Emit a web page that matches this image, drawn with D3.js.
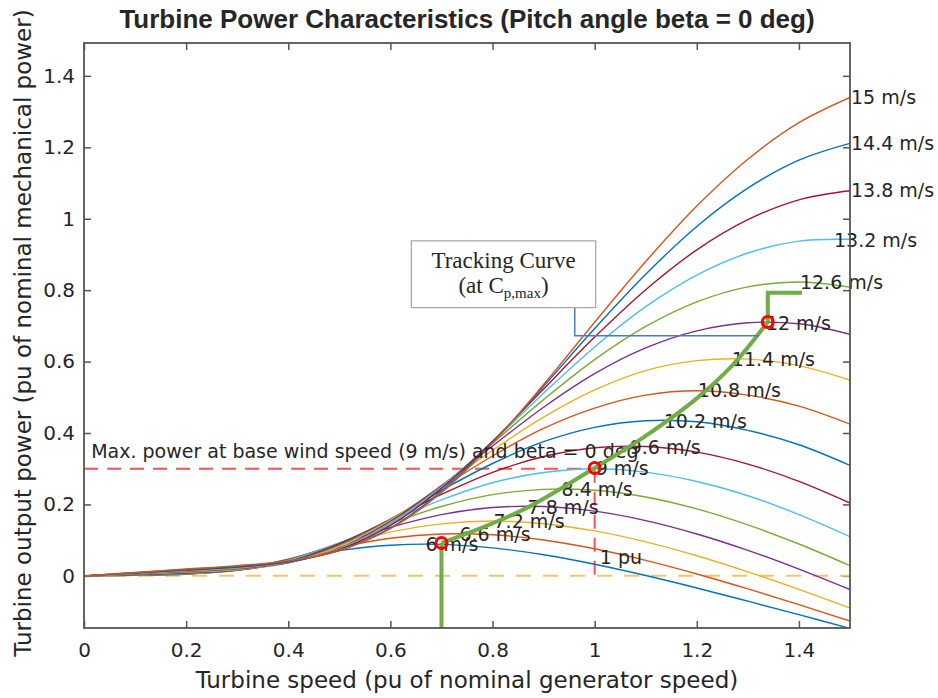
<!DOCTYPE html>
<meta charset="utf-8">
<script src="https://d3js.org/d3.v7.min.js"></script>
<style>
  body { margin: 0; background: #fff; }
  text { font-family: 'DejaVu Sans', sans-serif; fill: #262626; }
</style>
<div id="chart"></div>
<script>
// turbine speed grid (pu) shared by every curve
var speedGrid = [0, 0.1, 0.2, 0.3, 0.4, 0.5, 0.6, 0.7, 0.8, 0.9, 1.0, 1.1, 1.2, 1.3, 1.4, 1.5];

// wind speeds (m/s), one curve each
var windSpeeds = [6, 6.6, 7.2, 7.8, 8.4, 9, 9.6, 10.2, 10.8, 11.4, 12, 12.6, 13.2, 13.8, 14.4, 15];

// turbine output power (pu)
var p6    = [0, 0.0015, 0.0045, 0.0191, 0.0454, 0.0708, 0.0857, 0.0882, 0.0783, 0.0590, 0.0325, 0.0009, -0.0339, -0.0709, -0.1087, -0.1472];
var p6_6  = [0, 0.0018, 0.0048, 0.0182, 0.0469, 0.0801, 0.1053, 0.1172, 0.1151, 0.1005, 0.0758, 0.0433, 0.0053, -0.0364, -0.0807, -0.1265];
var p7_2  = [0, 0.0022, 0.0050, 0.0168, 0.0467, 0.0866, 0.1223, 0.1455, 0.1536, 0.1461, 0.1259, 0.0951, 0.0562, 0.0112, -0.0380, -0.0903];
var p7_8  = [0, 0.0026, 0.0056, 0.0164, 0.0459, 0.0903, 0.1359, 0.1715, 0.1914, 0.1941, 0.1811, 0.1547, 0.1173, 0.0715, 0.0189, -0.0383];
var p8_4  = [0, 0.0030, 0.0064, 0.0158, 0.0437, 0.0920, 0.1462, 0.1942, 0.2273, 0.2422, 0.2395, 0.2207, 0.1874, 0.1427, 0.0892, 0.0286];
var p9    = [0, 0.0034, 0.0071, 0.0153, 0.0426, 0.0913, 0.1534, 0.2129, 0.2608, 0.2893, 0.3000, 0.2904, 0.2642, 0.2243, 0.1716, 0.1098];
var p9_6  = [0, 0.0039, 0.0078, 0.0161, 0.0397, 0.0903, 0.1572, 0.2281, 0.2899, 0.3341, 0.3588, 0.3621, 0.3463, 0.3129, 0.2646, 0.2039];
var p10_2 = [0, 0.0044, 0.0088, 0.0166, 0.0390, 0.0872, 0.1590, 0.2396, 0.3146, 0.3757, 0.4159, 0.4345, 0.4314, 0.4074, 0.3671, 0.3093];
var p10_8 = [0, 0.0050, 0.0099, 0.0168, 0.0383, 0.0848, 0.1577, 0.2468, 0.3356, 0.4128, 0.4698, 0.5059, 0.5183, 0.5060, 0.4752, 0.4248];
var p11_4 = [0, 0.0055, 0.0110, 0.0180, 0.0366, 0.0823, 0.1564, 0.2509, 0.3516, 0.4442, 0.5205, 0.5748, 0.6026, 0.6068, 0.5886, 0.5478];
var p12   = [0, 0.0061, 0.0123, 0.0197, 0.0363, 0.0776, 0.1529, 0.2526, 0.3636, 0.4722, 0.5662, 0.6381, 0.6858, 0.7085, 0.7058, 0.6765];
var p12_6 = [0, 0.0067, 0.0135, 0.0214, 0.0377, 0.0763, 0.1475, 0.2504, 0.3713, 0.4934, 0.6054, 0.6983, 0.7673, 0.8093, 0.8230, 0.8083];
var p13_2 = [0, 0.0075, 0.0148, 0.0231, 0.0386, 0.0755, 0.1455, 0.2487, 0.3754, 0.5115, 0.6409, 0.7537, 0.8422, 0.9039, 0.9374, 0.9424];
var p13_8 = [0, 0.0081, 0.0162, 0.0248, 0.0394, 0.0737, 0.1413, 0.2449, 0.3769, 0.5234, 0.6685, 0.8012, 0.9127, 0.9972, 1.0529, 1.0783];
var p14_4 = [0, 0.0088, 0.0177, 0.0264, 0.0399, 0.0707, 0.1341, 0.2376, 0.3738, 0.5307, 0.6925, 0.8445, 0.9784, 1.0857, 1.1640, 1.2111];
var p15   = [0, 0.0096, 0.0191, 0.0286, 0.0420, 0.0709, 0.1319, 0.2332, 0.3715, 0.5356, 0.7101, 0.8802, 1.0356, 1.1667, 1.2688, 1.3394];

var powerCurves = [p6, p6_6, p7_2, p7_8, p8_4, p9, p9_6, p10_2, p10_8, p11_4, p12, p12_6, p13_2, p13_8, p14_4, p15];

// matlab default line colour order
var lineColors = ["#0072BD", "#D95319", "#EDB120", "#7E2F8E", "#77AC30", "#4DBEEE", "#A2142F"];

// tracking curve (green) and its red markers
var trackSpeed = [0.7, 0.7, 0.8, 0.875, 1.0, 1.1, 1.2, 1.27, 1.339, 1.339, 1.406];
var trackPower = [-0.146, 0.092, 0.147, 0.196, 0.302, 0.392, 0.497, 0.59, 0.711, 0.793, 0.793];
var markerSpeed = [0.7, 1.0, 1.339];
var markerPower = [0.092, 0.302, 0.711];

// base point: 9 m/s gives 0.3 pu at 1 pu speed
var baseSpeed = 1.0, basePower = 0.3, baseWind = 9;

var xTicks = [0, 0.2, 0.4, 0.6, 0.8, 1, 1.2, 1.4];
var yTicks = [0, 0.2, 0.4, 0.6, 0.8, 1, 1.2, 1.4];

var width = 938, height = 698;
var margin = {top: 43, left: 84, right: 88, bottom: 70};
var w = width - margin.left - margin.right, h = height - margin.top - margin.bottom;

var svg = d3.select("#chart").append("svg")
    .attr("width", width)
    .attr("height", height);
var g = svg.append("g")
    .attr("transform", "translate(" + margin.left + "," + margin.top + ")");

var x = d3.scaleLinear().domain([0, 1.5]).range([0, w]);
var y = d3.scaleLinear().domain([-0.146, 1.492]).range([h, 0]);

g.append("clipPath").attr("id", "clip")
  .append("rect").attr("width", w).attr("height", h);

// axes, ticks pointing inwards on all four sides
var fmt = function(d) { return d3.format("")(d); };
g.append("g").attr("class", "ax")
    .attr("transform", "translate(0," + h + ")")
    .call(d3.axisBottom(x).tickValues(xTicks).tickFormat(fmt).tickSizeInner(-7).tickSizeOuter(0).tickPadding(15));
g.append("g").attr("class", "ax")
    .call(d3.axisTop(x).tickValues(xTicks).tickFormat("").tickSizeInner(-7).tickSizeOuter(0));
g.append("g").attr("class", "ax")
    .call(d3.axisLeft(y).tickValues(yTicks).tickFormat(fmt).tickSizeInner(-7).tickSizeOuter(0).tickPadding(9));
g.append("g").attr("class", "ax")
    .attr("transform", "translate(" + w + ",0)")
    .call(d3.axisRight(y).tickValues(yTicks).tickFormat("").tickSizeInner(-7).tickSizeOuter(0));
g.selectAll(".ax .domain").remove();
g.selectAll(".ax line").attr("stroke", "#555").attr("stroke-width", 1.5);
g.selectAll(".ax text").style("font-size", "20px").attr("fill", "#333");

// zero line and base-speed guides
g.append("line")
    .attr("x1", x(0)).attr("x2", x(1.5))
    .attr("y1", y(0)).attr("y2", y(0))
    .attr("stroke", "#f4c467").attr("stroke-width", 2).attr("stroke-dasharray", "15,12");
g.append("line")
    .attr("x1", x(0)).attr("x2", x(baseSpeed))
    .attr("y1", y(basePower)).attr("y2", y(basePower))
    .attr("stroke", "#ff5050").attr("stroke-width", 2).attr("stroke-dasharray", "14,9");
g.append("line")
    .attr("x1", x(baseSpeed)).attr("x2", x(baseSpeed))
    .attr("y1", y(basePower)).attr("y2", y(0))
    .attr("stroke", "#ff5050").attr("stroke-width", 2).attr("stroke-dasharray", "14,9");

// power curves
var line = d3.line()
    .x(function(d, i) { return x(speedGrid[i]); })
    .y(function(d) { return y(d); })
    .curve(d3.curveCatmullRom);

g.append("g").attr("clip-path", "url(#clip)")
  .selectAll("path.curve")
  .data(powerCurves)
  .enter().append("path")
    .attr("class", "curve")
    .attr("fill", "none")
    .attr("stroke", function(d, i) { return lineColors[i % lineColors.length]; })
    .attr("stroke-width", 1.4)
    .attr("d", line);

// wind speed labels at each curve's peak (or at the right edge)
function valueAt(curve, s) {
  var i = Math.min(Math.floor(s / 0.1 + 1e-9), speedGrid.length - 2);
  var t = (s - speedGrid[i]) / (speedGrid[i + 1] - speedGrid[i]);
  return curve[i] + t * (curve[i + 1] - curve[i]);
}
g.selectAll("text.wl")
  .data(windSpeeds)
  .enter().append("text")
    .attr("class", "wl")
    .attr("x", function(v) { return x(Math.min(v / baseWind, 1.5)) + 1; })
    .attr("y", function(v, i) { return y(valueAt(powerCurves[i], Math.min(v / baseWind, 1.5))); })
    .attr("dy", "0.35em")
    .style("font-size", "19px")
    .text(function(v) { return v + " m/s"; });

g.append("text")
    .attr("x", x(0.014)).attr("y", y(0.35)).attr("dy", "0.35em")
    .style("font-size", "19px")
    .text("Max. power at base wind speed (9 m/s) and beta = 0 deg");
g.append("text")
    .attr("x", x(1.01)).attr("y", y(0.053)).attr("dy", "0.35em")
    .style("font-size", "19px")
    .text("1 pu");

// tracking curve
var trackPts = trackSpeed.map(function(s, i) { return [x(s), y(trackPower[i])]; });
var straight = d3.line();
var smooth = d3.line().curve(d3.curveCatmullRom);
var green = g.append("g").attr("fill", "none").attr("stroke", "#70AD47").attr("stroke-width", 4);
green.append("path").attr("d", straight(trackPts.slice(0, 2)));
green.append("path").attr("d", smooth(trackPts.slice(1, 9)));
green.append("path").attr("d", straight(trackPts.slice(8)));

g.selectAll("circle.mk")
  .data(markerSpeed)
  .enter().append("circle")
    .attr("class", "mk")
    .attr("cx", function(d) { return x(d); })
    .attr("cy", function(d, i) { return y(markerPower[i]); })
    .attr("r", 5.5)
    .attr("fill", "none")
    .attr("stroke", "#ff0000")
    .attr("stroke-width", 3);

// callout box with elbow connector
var boxL = x(0.641), boxR = x(1.002), boxT = y(0.938), boxB = y(0.751);
g.append("path")
    .attr("d", straight([[x(0.961), boxB], [x(0.961), y(0.672)], [x(1.322), y(0.672)]]))
    .attr("fill", "none").attr("stroke", "#4a7cc4").attr("stroke-width", 1.5);
g.append("rect")
    .attr("x", boxL).attr("y", boxT)
    .attr("width", boxR - boxL).attr("height", boxB - boxT)
    .attr("fill", "#fff").attr("stroke", "#a6a6a6").attr("stroke-width", 1.2);
var cx = (boxL + boxR) / 2;
g.append("text")
    .attr("x", cx).attr("y", boxT + 27)
    .attr("text-anchor", "middle")
    .style("font-family", "'Liberation Serif', serif").style("font-size", "23px")
    .text("Tracking Curve");
var t2 = g.append("text")
    .attr("x", cx).attr("y", boxT + 52)
    .attr("text-anchor", "middle")
    .style("font-family", "'Liberation Serif', serif").style("font-size", "23px");
t2.append("tspan").text("(at C");
t2.append("tspan").attr("dy", 5).style("font-size", "15px").text("p,max");
t2.append("tspan").attr("dy", -5).text(")");

// box outline of the axes
g.append("rect")
    .attr("width", w).attr("height", h)
    .attr("fill", "none").attr("stroke", "#555").attr("stroke-width", 1.8);

// titles
svg.append("text")
    .attr("x", margin.left + w / 2).attr("y", 28)
    .attr("text-anchor", "middle")
    .style("font-family", "'Liberation Sans', Arial, sans-serif")
    .style("font-weight", "bold").style("font-size", "26px")
    .text("Turbine Power Characteristics (Pitch angle beta = 0 deg)");
svg.append("text")
    .attr("x", margin.left + w / 2).attr("y", 688)
    .attr("text-anchor", "middle")
    .style("font-size", "23px").attr("fill", "#333")
    .text("Turbine speed (pu of nominal generator speed)");
svg.append("text")
    .attr("transform", "translate(31,333) rotate(-90)")
    .attr("text-anchor", "middle")
    .style("font-size", "23px").attr("fill", "#333")
    .text("Turbine output power (pu of nominal mechanical power)");
</script>
